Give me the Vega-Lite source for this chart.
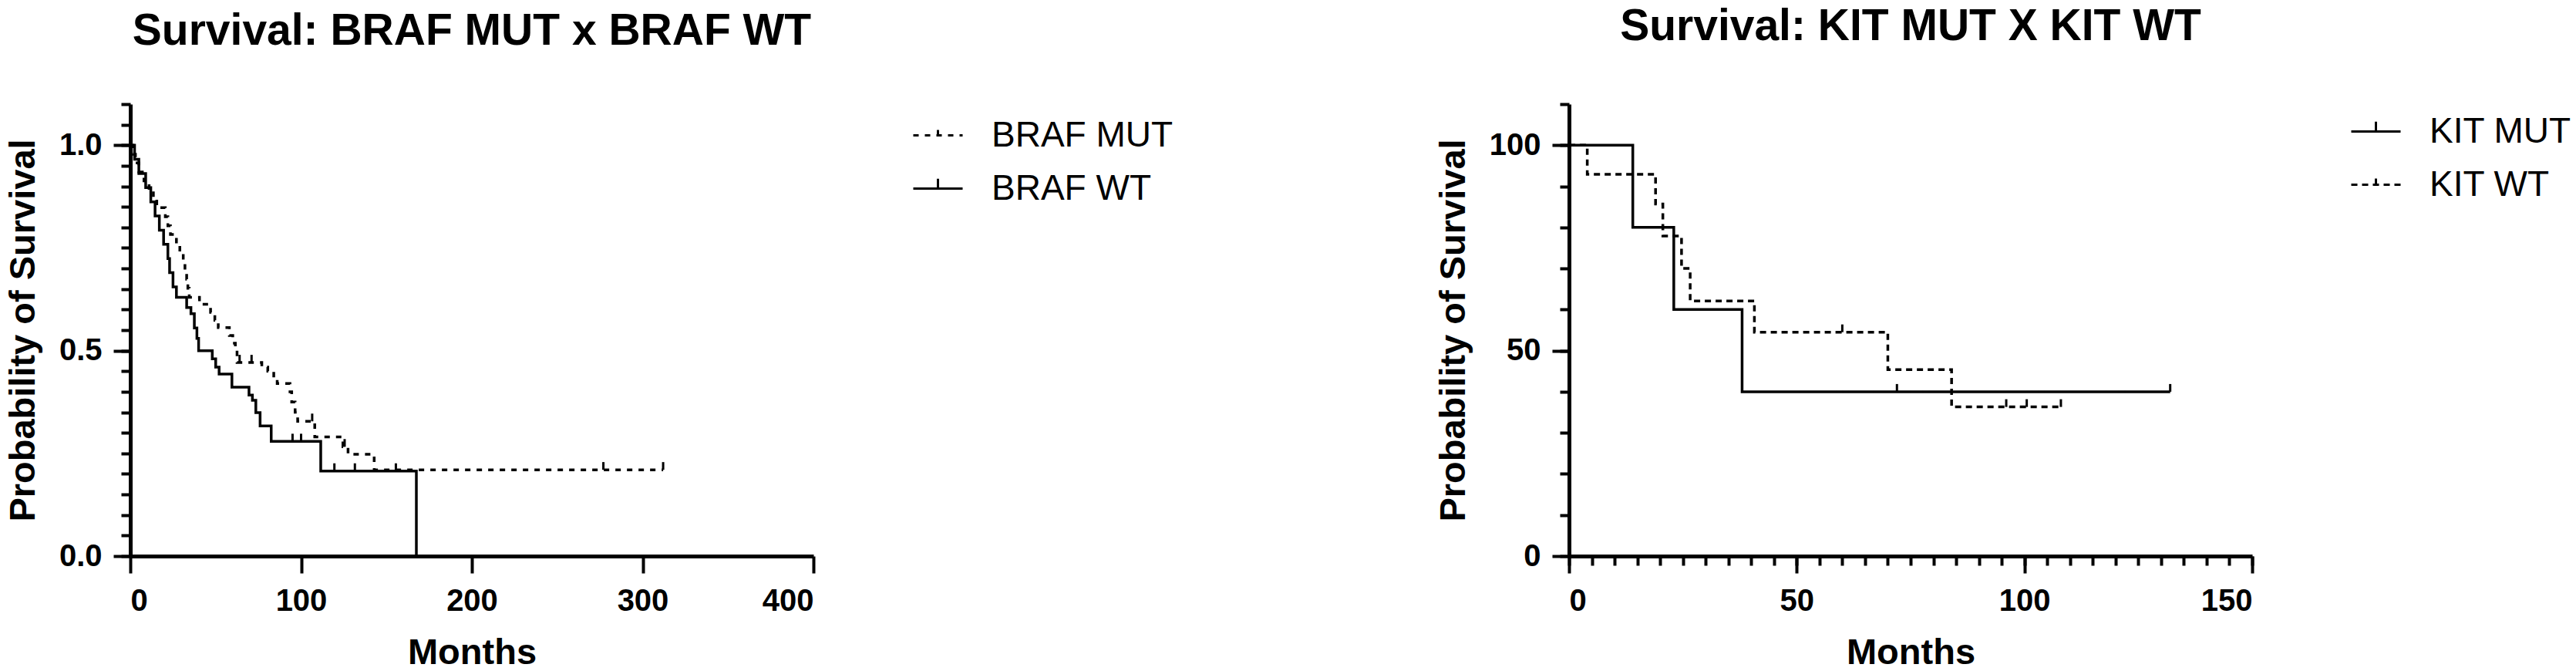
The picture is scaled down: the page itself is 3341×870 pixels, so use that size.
{
  "$schema": "https://vega.github.io/schema/vega-lite/v6.json",
  "background": "white",
  "padding": {"left": 6, "top": 6, "right": 0, "bottom": 0},
  "spacing": 339,
  "config": {
    "font": "Liberation Sans",
    "view": {"stroke": null},
    "axis": {
      "grid": false,
      "domainColor": "black",
      "domainWidth": 5,
      "tickColor": "black",
      "tickWidth": 4,
      "labelColor": "black",
      "titleColor": "black",
      "labelFont": "Liberation Sans",
      "titleFont": "Liberation Sans",
      "labelFontWeight": "bold",
      "titleFontWeight": "bold",
      "labelFontSize": 40,
      "titleFontSize": 47
    },
    "title": {"font": "Liberation Sans", "fontSize": 57, "fontWeight": "bold", "color": "black", "anchor": "middle", "frame": "group", "offset": 63}
  },
  "datasets": {
    "braf_curve": [
      {"group": "BRAF WT", "months": 0, "survival": 1.0},
      {"group": "BRAF WT", "months": 2.5, "survival": 0.966},
      {"group": "BRAF WT", "months": 5, "survival": 0.931},
      {"group": "BRAF WT", "months": 9, "survival": 0.897},
      {"group": "BRAF WT", "months": 12, "survival": 0.862},
      {"group": "BRAF WT", "months": 14.5, "survival": 0.828},
      {"group": "BRAF WT", "months": 17, "survival": 0.793},
      {"group": "BRAF WT", "months": 19.5, "survival": 0.759},
      {"group": "BRAF WT", "months": 22, "survival": 0.724},
      {"group": "BRAF WT", "months": 23, "survival": 0.69},
      {"group": "BRAF WT", "months": 25, "survival": 0.655},
      {"group": "BRAF WT", "months": 27, "survival": 0.63},
      {"group": "BRAF WT", "months": 33, "survival": 0.605},
      {"group": "BRAF WT", "months": 35.5, "survival": 0.59},
      {"group": "BRAF WT", "months": 37.5, "survival": 0.555},
      {"group": "BRAF WT", "months": 39, "survival": 0.53},
      {"group": "BRAF WT", "months": 40, "survival": 0.5},
      {"group": "BRAF WT", "months": 48, "survival": 0.48},
      {"group": "BRAF WT", "months": 50, "survival": 0.46},
      {"group": "BRAF WT", "months": 52, "survival": 0.443},
      {"group": "BRAF WT", "months": 59.5, "survival": 0.411},
      {"group": "BRAF WT", "months": 69.5, "survival": 0.392},
      {"group": "BRAF WT", "months": 71.5, "survival": 0.379},
      {"group": "BRAF WT", "months": 73.5, "survival": 0.349},
      {"group": "BRAF WT", "months": 76, "survival": 0.317},
      {"group": "BRAF WT", "months": 82.5, "survival": 0.279},
      {"group": "BRAF WT", "months": 111.5, "survival": 0.207},
      {"group": "BRAF WT", "months": 167.5, "survival": 0},
      {"group": "BRAF MUT", "months": 0, "survival": 1.0},
      {"group": "BRAF MUT", "months": 1.5, "survival": 0.978},
      {"group": "BRAF MUT", "months": 3, "survival": 0.957},
      {"group": "BRAF MUT", "months": 5, "survival": 0.935},
      {"group": "BRAF MUT", "months": 8, "survival": 0.913},
      {"group": "BRAF MUT", "months": 11, "survival": 0.891},
      {"group": "BRAF MUT", "months": 13.5, "survival": 0.87},
      {"group": "BRAF MUT", "months": 15.5, "survival": 0.848},
      {"group": "BRAF MUT", "months": 20.5, "survival": 0.826},
      {"group": "BRAF MUT", "months": 22, "survival": 0.804},
      {"group": "BRAF MUT", "months": 23.5, "survival": 0.783},
      {"group": "BRAF MUT", "months": 27, "survival": 0.761},
      {"group": "BRAF MUT", "months": 29, "survival": 0.739},
      {"group": "BRAF MUT", "months": 31, "survival": 0.717},
      {"group": "BRAF MUT", "months": 32, "survival": 0.696},
      {"group": "BRAF MUT", "months": 33, "survival": 0.674},
      {"group": "BRAF MUT", "months": 33.7, "survival": 0.652},
      {"group": "BRAF MUT", "months": 34.5, "survival": 0.63},
      {"group": "BRAF MUT", "months": 40.5, "survival": 0.613},
      {"group": "BRAF MUT", "months": 47, "survival": 0.593},
      {"group": "BRAF MUT", "months": 49.5, "survival": 0.574},
      {"group": "BRAF MUT", "months": 51.5, "survival": 0.556},
      {"group": "BRAF MUT", "months": 58, "survival": 0.537},
      {"group": "BRAF MUT", "months": 60, "survival": 0.518},
      {"group": "BRAF MUT", "months": 61.5, "survival": 0.5},
      {"group": "BRAF MUT", "months": 62.5, "survival": 0.471},
      {"group": "BRAF MUT", "months": 77, "survival": 0.46},
      {"group": "BRAF MUT", "months": 80.5, "survival": 0.45},
      {"group": "BRAF MUT", "months": 84, "survival": 0.435},
      {"group": "BRAF MUT", "months": 86, "survival": 0.42},
      {"group": "BRAF MUT", "months": 93.5, "survival": 0.4},
      {"group": "BRAF MUT", "months": 94.5, "survival": 0.375},
      {"group": "BRAF MUT", "months": 96.5, "survival": 0.35},
      {"group": "BRAF MUT", "months": 98, "survival": 0.328},
      {"group": "BRAF MUT", "months": 108, "survival": 0.29},
      {"group": "BRAF MUT", "months": 124.5, "survival": 0.266},
      {"group": "BRAF MUT", "months": 127.5, "survival": 0.248},
      {"group": "BRAF MUT", "months": 142.8, "survival": 0.21},
      {"group": "BRAF MUT", "months": 312, "survival": 0.21}
    ],
    "braf_censor": [
      {"group": "BRAF WT", "months": 95, "survival": 0.279},
      {"group": "BRAF WT", "months": 100, "survival": 0.279},
      {"group": "BRAF WT", "months": 119.5, "survival": 0.207},
      {"group": "BRAF WT", "months": 131.5, "survival": 0.207},
      {"group": "BRAF WT", "months": 155.5, "survival": 0.207},
      {"group": "BRAF MUT", "months": 64, "survival": 0.471},
      {"group": "BRAF MUT", "months": 71, "survival": 0.471},
      {"group": "BRAF MUT", "months": 106.5, "survival": 0.328},
      {"group": "BRAF MUT", "months": 125.5, "survival": 0.266},
      {"group": "BRAF MUT", "months": 277, "survival": 0.21},
      {"group": "BRAF MUT", "months": 312, "survival": 0.21}
    ],
    "kit_curve": [
      {"group": "KIT MUT", "months": 0, "survival": 100},
      {"group": "KIT MUT", "months": 14, "survival": 80},
      {"group": "KIT MUT", "months": 23, "survival": 60},
      {"group": "KIT MUT", "months": 38, "survival": 40},
      {"group": "KIT MUT", "months": 132, "survival": 40},
      {"group": "KIT WT", "months": 0, "survival": 100},
      {"group": "KIT WT", "months": 4, "survival": 92.9},
      {"group": "KIT WT", "months": 19, "survival": 85.7},
      {"group": "KIT WT", "months": 20.6, "survival": 77.9},
      {"group": "KIT WT", "months": 24.7, "survival": 70},
      {"group": "KIT WT", "months": 26.6, "survival": 62.1},
      {"group": "KIT WT", "months": 40.7, "survival": 54.5},
      {"group": "KIT WT", "months": 70, "survival": 45.4},
      {"group": "KIT WT", "months": 84, "survival": 36.3},
      {"group": "KIT WT", "months": 108, "survival": 36.3}
    ],
    "kit_censor": [
      {"group": "KIT MUT", "months": 72, "survival": 40},
      {"group": "KIT MUT", "months": 132, "survival": 40},
      {"group": "KIT WT", "months": 60, "survival": 54.5},
      {"group": "KIT WT", "months": 96, "survival": 36.3},
      {"group": "KIT WT", "months": 100.5, "survival": 36.3},
      {"group": "KIT WT", "months": 108, "survival": 36.3}
    ]
  },
  "resolve": {"scale": {"strokeDash": "independent"}, "legend": {"strokeDash": "independent"}},
  "hconcat": [
    {
      "title": {"text": "Survival: BRAF MUT x BRAF WT"},
      "width": 886,
      "height": 586,
      "resolve": {"axis": {"y": "independent"}},
      "layer": [
        {
          "data": {"name": "braf_curve"},
          "mark": {"type": "line", "interpolate": "step-after", "strokeWidth": 3.5, "color": "black"},
          "encoding": {
            "x": {"field": "months", "type": "quantitative", "scale": {"domain": [0, 400], "nice": false},
              "axis": {"title": "Months", "values": [0, 100, 200, 300, 400], "tickSize": 22, "labelPadding": 16, "titlePadding": 24}},
            "y": {"field": "survival", "type": "quantitative", "scale": {"domain": [0, 1.1], "nice": false},
              "axis": {"title": "Probability of Survival", "values": [0, 0.5, 1], "format": ".1f", "tickSize": 22, "labelPadding": 15, "titlePadding": 22}},
            "strokeDash": {"field": "group", "type": "nominal",
              "scale": {"domain": ["BRAF MUT", "BRAF WT"], "range": [[7, 8], [1, 0]]},
              "legend": {"title": null, "orient": "none", "legendX": 1014, "legendY": 7, "padding": 0,
                "symbolType": "M-1,0L1,0M0,0L0,-0.4", "symbolSize": 4096, "symbolStrokeWidth": 3,
                "symbolStrokeColor": "black", "symbolFillColor": "transparent",
                "labelFont": "Liberation Sans", "labelFontSize": 46, "labelFontWeight": "normal", "labelColor": "black",
                "labelLimit": 0, "labelOffset": 36, "rowPadding": 12}}
          }
        },
        {
          "data": {"name": "braf_censor"},
          "mark": {"type": "point", "shape": "M0,0L0,-1", "filled": false, "size": 400, "strokeWidth": 3, "color": "black", "opacity": 1},
          "encoding": {
            "x": {"field": "months", "type": "quantitative"},
            "y": {"field": "survival", "type": "quantitative",
              "axis": {"orient": "left", "title": null, "labels": false, "domain": false, "tickSize": 12,
                "values": [0, 0.05, 0.1, 0.15, 0.2, 0.25, 0.3, 0.35, 0.4, 0.45, 0.5, 0.55, 0.6, 0.65, 0.7, 0.75, 0.8, 0.85, 0.9, 0.95, 1, 1.05, 1.1]}}
          }
        }
      ]
    },
    {
      "title": {"text": "Survival: KIT MUT X KIT WT", "offset": 69},
      "width": 886,
      "height": 586,
      "resolve": {"axis": {"y": "independent", "x": "independent"}},
      "layer": [
        {
          "data": {"name": "kit_curve"},
          "mark": {"type": "line", "interpolate": "step-after", "strokeWidth": 3.5, "color": "black"},
          "encoding": {
            "x": {"field": "months", "type": "quantitative", "scale": {"domain": [0, 150], "nice": false},
              "axis": {"title": "Months", "values": [0, 50, 100, 150], "tickSize": 22, "labelPadding": 16, "titlePadding": 24}},
            "y": {"field": "survival", "type": "quantitative", "scale": {"domain": [0, 110], "nice": false},
              "axis": {"title": "Probability of Survival", "values": [0, 50, 100], "tickSize": 22, "labelPadding": 15, "titlePadding": 22}},
            "strokeDash": {"field": "group", "type": "nominal",
              "scale": {"domain": ["KIT MUT", "KIT WT"], "range": [[1, 0], [8, 6]]},
              "legend": {"title": null, "orient": "none", "legendX": 1013, "legendY": 2, "padding": 0,
                "symbolType": "M-1,0L1,0M0,0L0,-0.4", "symbolSize": 4096, "symbolStrokeWidth": 3,
                "symbolStrokeColor": "black", "symbolFillColor": "transparent",
                "labelFont": "Liberation Sans", "labelFontSize": 46, "labelFontWeight": "normal", "labelColor": "black",
                "labelLimit": 0, "labelOffset": 36, "rowPadding": 12}}
          }
        },
        {
          "data": {"name": "kit_censor"},
          "mark": {"type": "point", "shape": "M0,0L0,-1", "filled": false, "size": 400, "strokeWidth": 3, "color": "black", "opacity": 1},
          "encoding": {
            "x": {"field": "months", "type": "quantitative",
              "axis": {"orient": "bottom", "title": null, "labels": false, "domain": false, "tickSize": 12,
                "values": [0, 5, 10, 15, 20, 25, 30, 35, 40, 45, 50, 55, 60, 65, 70, 75, 80, 85, 90, 95, 100, 105, 110, 115, 120, 125, 130, 135, 140, 145, 150]}},
            "y": {"field": "survival", "type": "quantitative",
              "axis": {"orient": "left", "title": null, "labels": false, "domain": false, "tickSize": 12,
                "values": [0, 10, 20, 30, 40, 50, 60, 70, 80, 90, 100, 110]}}
          }
        }
      ]
    }
  ]
}
